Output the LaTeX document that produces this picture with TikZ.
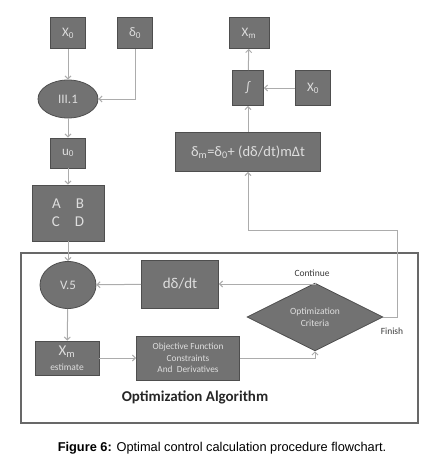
\documentclass[tikz,border=0pt]{standalone}
\usepackage{fontspec}
\setmainfont{Carlito}
\newfontfamily\captionfont{Liberation Sans}
\usepackage{xcolor}
\usepackage{tikz}
\usetikzlibrary{shapes.geometric, arrows.meta, positioning}
\definecolor{boxgray}{RGB}{114,114,114}
\definecolor{boxedge}{RGB}{78,78,78}
\definecolor{boxtext}{RGB}{222,222,222}
\definecolor{linegray}{RGB}{172,172,172}
\definecolor{framegray}{RGB}{104,104,104}
\definecolor{labelgray}{RGB}{60,60,60}
\tikzstyle{block} = [rectangle, draw=boxedge, fill=boxgray, text=boxtext, line width=0.8pt, inner sep=1pt, align=center, font=\fontsize{13}{14}\selectfont]
\tikzstyle{oval} = [ellipse, draw=boxedge, fill=boxgray, text=boxtext, line width=0.8pt, inner sep=0pt, font=\fontsize{13}{14}\selectfont]
\tikzstyle{decision} = [diamond, draw=boxedge, fill=boxgray, text=boxtext, line width=0.8pt, inner sep=0pt, align=center, font=\fontsize{9.5}{11.5}\selectfont]
\tikzstyle{arrow} = [draw=linegray, line width=1pt, -{Straight Barb[length=3pt, width=6pt]}]
\tikzstyle{flowlabel} = [text=labelgray, font=\fontsize{9.5}{10}\selectfont]

\begin{document}
\begin{tikzpicture}[x=1pt, y=-1pt]
\useasboundingbox (0,0) rectangle (445,463);

% left column
\node (xzero) [block, minimum width=35pt, minimum height=31pt] at (68,33) {X\textsubscript{0}};
\node (dzero) [block, minimum width=35pt, minimum height=31pt] at (135,33) {δ\textsubscript{0}};
\node (eqthree) [oval, minimum width=60pt, minimum height=38pt] at (68,99) {III.1};
\node (uzero) [block, minimum width=35pt, minimum height=30pt] at (68,153) {u\textsubscript{0}};
\node (abcd) [block, minimum width=72pt, minimum height=56pt, font=\fontsize{15}{18}\selectfont] at (68,213) {A\quad B\\C\quad D};

% right column
\node (xmout) [block, minimum width=40pt, minimum height=31pt] at (249,33) {X\textsubscript{m}};
\node (integ) [block, minimum width=31pt, minimum height=35pt] at (248,88) {∫};
\node (xzeroright) [block, minimum width=35pt, minimum height=35pt] at (313,88) {X\textsubscript{0}};
\node (delta) [block, minimum width=145pt, minimum height=39pt, font=\fontsize{14.5}{15}\selectfont] at (248,152) {δ\textsubscript{m}=δ\textsubscript{0}+ (dδ/dt)mΔt};

% optimization algorithm
\draw [draw=framegray, line width=1.5pt] (21,253) rectangle (418,423);
\node (eqfive) [oval, minimum width=56pt, minimum height=47pt] at (68,285) {V.5};
\node (ddt) [block, minimum width=77pt, minimum height=48pt, font=\fontsize{15}{16}\selectfont] at (180,284) {dδ/dt};
\node (crit) [decision, minimum width=136pt, minimum height=58pt] at (315,317) {Optimization\\Criteria};
\node (xmest) [block, minimum width=64pt, minimum height=34pt, font=\fontsize{9.5}{15}\selectfont] at (67,358) {{\fontsize{15}{14}\selectfont X\textsubscript{m}}\\estimate};
\node (objective) [block, minimum width=103pt, minimum height=44pt, font=\fontsize{9.3}{11.5}\selectfont] at (188,358) {Objective Function\\Constraints\\And~ Derivatives};
\node (cont) [flowlabel] at (312,273) {Continue};
\node (fin) [flowlabel] at (392,331) {Finish};
\node (algo) [font=\bfseries\fontsize{15}{16}\selectfont, text=black!85] at (195,397) {Optimization Algorithm};
\coordinate (finishturn) at (397,230);

% caption
\node (caption) [font=\captionfont\fontsize{12.8}{13}\selectfont] at (222,448) {\textbf{Figure 6:} Optimal control calculation procedure flowchart.};

\draw [arrow] (xzero) -- (eqthree);
\draw [arrow] (dzero) |- (eqthree);
\draw [arrow] (eqthree) -- (uzero);
\draw [arrow] (uzero) -- (abcd);
\draw [arrow] (abcd) -- (eqfive);
\draw [arrow] (eqfive) -- (xmest);
\draw [arrow] (xmest) -- (objective);
\draw [arrow] (objective) -| (crit.south);
\draw [arrow] (crit.north) |- (ddt);
\draw [arrow] (ddt) -- (eqfive);
\draw [arrow] (crit.east) -| (finishturn) -| (delta.south);
\draw [arrow] (delta) -- (integ);
\draw [arrow] (xzeroright) -- (integ);
\draw [arrow] (integ) -- (xmout);

\end{tikzpicture}
\end{document}
